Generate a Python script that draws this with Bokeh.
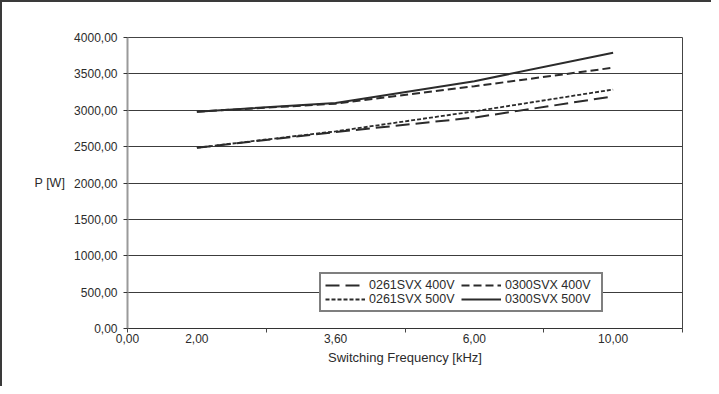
from bokeh.plotting import figure
from bokeh.models import Range1d, FixedTicker, Legend, LegendItem
from bokeh.embed import file_html
from bokeh.resources import INLINE

# ---- data ----
freq_labels = ["2,00", "3,60", "6,00", "10,00"]
origin_label = "0,00"
p_0261_400 = [2485, 2700, 2900, 3190]
p_0300_400 = [2980, 3090, 3330, 3585]
p_0261_500 = [2485, 2710, 2985, 3285]
p_0300_500 = [2980, 3100, 3400, 3790]
y_ticks = [0, 500, 1000, 1500, 2000, 2500, 3000, 3500, 4000]
y_tick_labels = ["0,00", "500,00", "1000,00", "1500,00", "2000,00",
                 "2500,00", "3000,00", "3500,00", "4000,00"]
series_names = ["0261SVX 400V", "0300SVX 400V", "0261SVX 500V", "0300SVX 500V"]

FONT = "Liberation Sans"
INK = "#2b2b2b"

n = len(freq_labels)
xs = [i + 0.5 for i in range(n)]          # category centres
bounds = [float(i) for i in range(n + 1)]  # category boundaries

p = figure(width=711, height=386, output_backend="svg", toolbar_location=None,
           x_range=Range1d(0, n), y_range=Range1d(0, 4000),
           min_border_left=125, min_border_right=31,
           min_border_top=35, min_border_bottom=60)
p.styles = {"border-left": "2px solid #3a3a3a", "border-top": "2px solid #3a3a3a"}

p.background_fill_color = "white"
p.border_fill_color = "white"
p.outline_line_color = "#444444"
p.outline_line_width = 1

# grid
p.xgrid.visible = False
p.ygrid.ticker = FixedTicker(ticks=y_ticks)
p.ygrid.grid_line_color = "#3c3c3c"
p.ygrid.grid_line_width = 1

# x axis
xa = p.xaxis[0]
xa.ticker = FixedTicker(ticks=[0.0] + xs, minor_ticks=bounds)
overrides = {0.0: origin_label}
for x, lab in zip(xs, freq_labels):
    overrides[x] = lab
xa.major_label_overrides = overrides
xa.major_tick_line_color = None
xa.major_tick_out = 0
xa.major_tick_in = 0
xa.minor_tick_line_color = "#444444"
xa.minor_tick_out = 4
xa.minor_tick_in = 0
xa.axis_line_color = "#333333"
xa.axis_line_width = 1
xa.major_label_standoff = 1
xa.major_label_text_font = FONT
xa.major_label_text_font_size = "12px"
xa.major_label_text_color = INK
xa.axis_label = "Switching Frequency [kHz]"
xa.axis_label_text_font = FONT
xa.axis_label_text_font_size = "13px"
xa.axis_label_text_font_style = "normal"
xa.axis_label_text_color = INK
xa.axis_label_standoff = 4

# y axis
ya = p.yaxis[0]
ya.ticker = FixedTicker(ticks=y_ticks)
ya.major_label_overrides = {t: l for t, l in zip(y_ticks, y_tick_labels)}
ya.minor_tick_line_color = None
ya.major_tick_line_color = "#333333"
ya.major_tick_out = 4
ya.major_tick_in = 0
ya.axis_line_color = "#9a9a9a"
ya.axis_line_width = 2
ya.major_label_standoff = 6
ya.major_label_text_font = FONT
ya.major_label_text_font_size = "12px"
ya.major_label_text_color = INK
ya.axis_label = "P [W]"
ya.axis_label_orientation = "horizontal"
ya.axis_label_text_font = FONT
ya.axis_label_text_font_size = "12.5px"
ya.axis_label_text_font_style = "normal"
ya.axis_label_text_color = INK
ya.axis_label_standoff = 6

# series
styles = [
    (p_0261_400, "14 6", 2.0),
    (p_0300_400, "8 4", 2.0),
    (p_0261_500, "4 2", 1.8),
    (p_0300_500, "solid", 2.0),
]
renderers = []
for vals, dash, w in styles:
    r = p.line(xs, vals, line_color=INK, line_width=w, line_dash=dash)
    renderers.append(r)

items = [LegendItem(label=name, renderers=[r]) for name, r in zip(series_names, renderers)]
legend = Legend(items=items, location=(192, 16), ncols=2,
                orientation="horizontal",
                glyph_width=40, glyph_height=12, label_standoff=4,
                label_width=92, label_height=12, spacing=0, padding=4, margin=0,
                border_line_color="black", border_line_width=2,
                background_fill_color="white", background_fill_alpha=1,
                label_text_font=FONT, label_text_font_size="12.5px",
                label_text_color=INK)
p.add_layout(legend, "center")

open("out.html", "w").write(file_html(p, INLINE))
